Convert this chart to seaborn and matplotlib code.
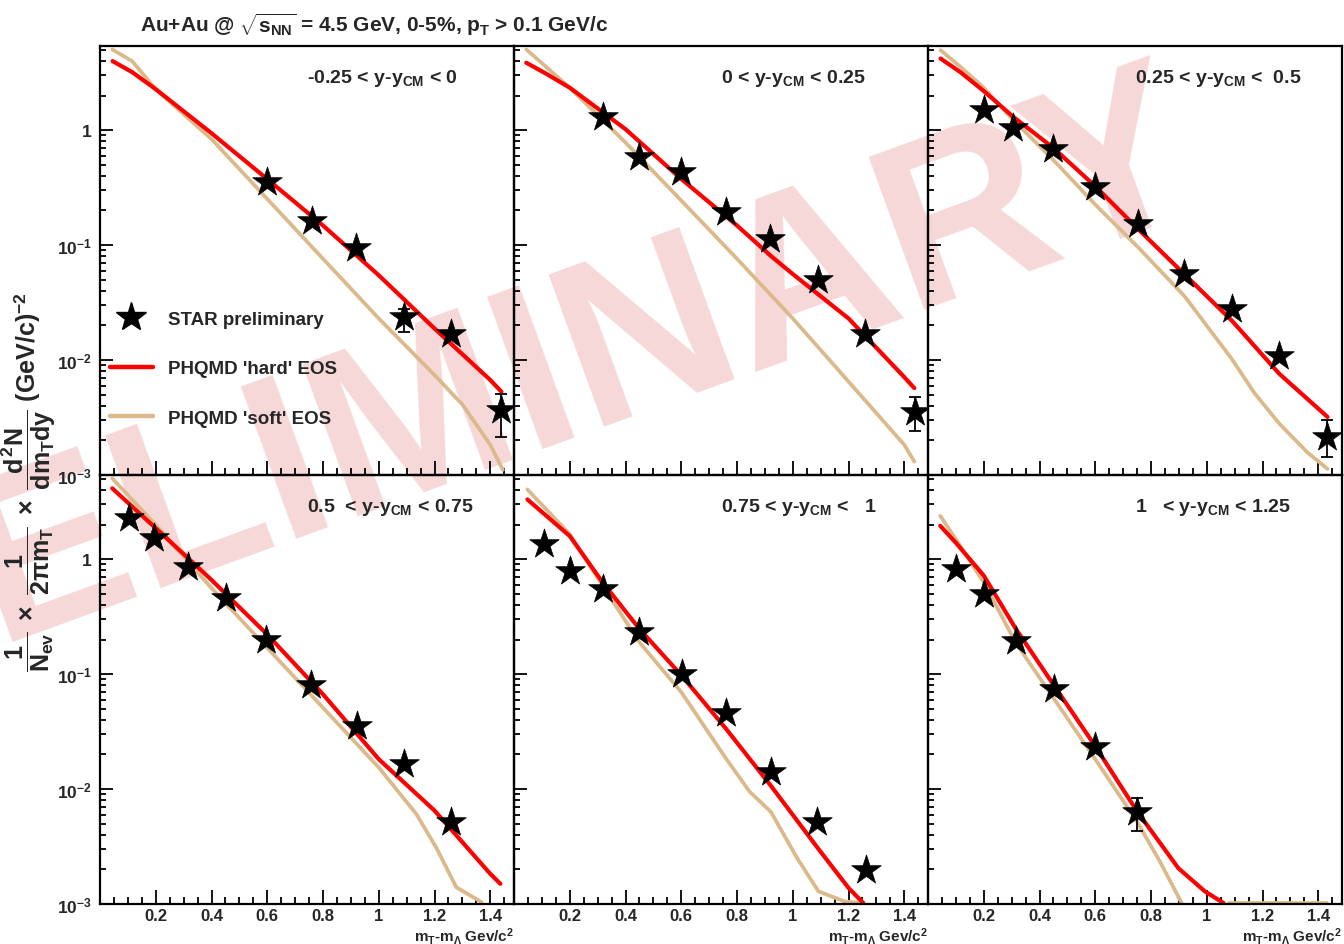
import numpy as np
import pandas as pd
import matplotlib
matplotlib.use("Agg")
import matplotlib.pyplot as plt
import seaborn as sns
from matplotlib.lines import Line2D
from matplotlib.ticker import LogLocator, MultipleLocator, NullFormatter, FixedLocator

# rapidity bins (one panel each)
bin_labels = ["-0.25 < y-y$_{CM}$ < 0", "0 < y-y$_{CM}$ < 0.25", "0.25 < y-y$_{CM}$ <  0.5",
              "0.5  < y-y$_{CM}$ < 0.75", "0.75 < y-y$_{CM}$ <   1", "1   < y-y$_{CM}$ < 1.25"]

# STAR preliminary points: mT-m0, yield, error band low/high
p1_star_x = [0.6, 0.76, 0.92, 1.09, 1.26, 1.44]
p1_star_y = [0.356, 0.161, 0.094, 0.0238, 0.0167, 0.00368]
p1_star_lo = [0.34, 0.153, 0.09, 0.0176, 0.0158, 0.00216]
p1_star_hi = [0.372, 0.169, 0.098, 0.028, 0.0176, 0.0051]

p2_star_x = [0.32, 0.45, 0.6, 0.76, 0.92, 1.09, 1.26, 1.44]
p2_star_y = [1.29, 0.58, 0.43, 0.193, 0.1135, 0.0494, 0.017, 0.00356]
p2_star_lo = [1.29, 0.58, 0.43, 0.193, 0.1135, 0.0494, 0.017, 0.0024]
p2_star_hi = [1.29, 0.58, 0.43, 0.193, 0.1135, 0.0494, 0.017, 0.0048]

p3_star_x = [0.2, 0.305, 0.45, 0.6, 0.755, 0.92, 1.09, 1.26, 1.433]
p3_star_y = [1.5, 1.04, 0.68, 0.32, 0.153, 0.056, 0.0277, 0.0109, 0.00213]
p3_star_lo = [1.5, 1.04, 0.68, 0.32, 0.153, 0.056, 0.0277, 0.0109, 0.00143]
p3_star_hi = [1.5, 1.04, 0.68, 0.32, 0.153, 0.056, 0.0277, 0.0109, 0.00298]

p4_star_x = [0.104, 0.194, 0.314, 0.451, 0.595, 0.757, 0.921, 1.089, 1.26]
p4_star_y = [2.27, 1.52, 0.86, 0.46, 0.2, 0.081, 0.0354, 0.0165, 0.00514]
p4_star_lo = p4_star_y
p4_star_hi = p4_star_y

p5_star_x = [0.109, 0.2, 0.318, 0.45, 0.602, 0.76, 0.921, 1.088, 1.263]
p5_star_y = [1.35, 0.79, 0.55, 0.231, 0.1, 0.0462, 0.0141, 0.0052, 0.00199]
p5_star_lo = p5_star_y
p5_star_hi = p5_star_y

p6_star_x = [0.101, 0.2, 0.314, 0.452, 0.598, 0.75]
p6_star_y = [0.82, 0.5, 0.196, 0.0746, 0.0233, 0.00636]
p6_star_lo = [0.82, 0.5, 0.196, 0.0746, 0.0233, 0.0043]
p6_star_hi = [0.82, 0.5, 0.196, 0.0746, 0.0233, 0.0083]

# PHQMD 'hard' EOS
p1_hard_x = [0.045, 0.115, 0.2, 0.4, 0.6, 0.8, 1.0, 1.2, 1.4, 1.44]
p1_hard_y = [3.99, 3.2, 2.27, 0.94, 0.375, 0.148, 0.0546, 0.0188, 0.0067, 0.0053]
p2_hard_x = [0.044, 0.115, 0.2, 0.4, 0.6, 0.8, 0.92, 1.0, 1.2, 1.4, 1.436]
p2_hard_y = [3.86, 3.1, 2.34, 1.02, 0.376, 0.148, 0.081, 0.056, 0.023, 0.0071, 0.0057]
p3_hard_x = [0.045, 0.116, 0.2, 0.305, 0.45, 0.6, 0.755, 0.92, 1.09, 1.26, 1.433]
p3_hard_y = [4.2, 3.2, 2.19, 1.31, 0.70, 0.325, 0.137, 0.0557, 0.022, 0.0076, 0.0032]
p4_hard_x = [0.044, 0.2, 0.4, 0.6, 0.8, 1.0, 1.2, 1.4, 1.436]
p4_hard_y = [4.13, 1.86, 0.66, 0.221, 0.0667, 0.0182, 0.0065, 0.00183, 0.0015]
p5_hard_x = [0.048, 0.2, 0.318, 0.45, 0.6, 0.76, 0.92, 1.09, 1.2, 1.253]
p5_hard_y = [3.31, 1.59, 0.628, 0.247, 0.098, 0.0336, 0.0108, 0.00306, 0.00138, 0.00102]
p6_hard_x = [0.044, 0.1, 0.2, 0.314, 0.452, 0.598, 0.75, 0.898, 0.993, 1.06]
p6_hard_y = [1.95, 1.39, 0.72, 0.25, 0.0797, 0.024, 0.0064, 0.00205, 0.00129, 0.00102]

# PHQMD 'soft' EOS (seg marks separate pieces of the curve)
p1_soft_x = [0.044, 0.115, 0.2, 0.4, 0.6, 0.8, 1.0, 1.2, 1.3, 1.4, 1.445]
p1_soft_y = [5.04, 3.99, 2.27, 0.836, 0.252, 0.076, 0.023, 0.0074, 0.0041, 0.00183, 0.00111]
p2_soft_x = [0.044, 0.2, 0.4, 0.6, 0.8, 1.0, 1.2, 1.4, 1.436]
p2_soft_y = [5.04, 2.34, 0.78, 0.244, 0.076, 0.023, 0.0065, 0.00183, 0.00131]
p3_soft_x = [0.045, 0.116, 0.2, 0.305, 0.45, 0.6, 0.755, 0.92, 1.09, 1.17, 1.26, 1.36, 1.433]
p3_soft_y = [4.97, 3.56, 2.34, 1.23, 0.55, 0.225, 0.095, 0.036, 0.0102, 0.0052, 0.0028, 0.00158, 0.00113]
p4_soft_x = [0.044, 0.2, 0.4, 0.6, 0.8, 1.0, 1.134, 1.206, 1.278, 1.368]
p4_soft_y = [5.04, 1.99, 0.56, 0.169, 0.051, 0.0154, 0.0061, 0.0031, 0.0014, 0.00104]
p5_soft_x = [0.048, 0.2, 0.318, 0.45, 0.6, 0.76, 0.845, 0.921, 1.016, 1.092, 1.187, 1.253]
p5_soft_y = [4.04, 1.65, 0.587, 0.189, 0.0698, 0.0185, 0.0095, 0.00636, 0.0025, 0.00129, 0.00105, 0.00102]
p6_soft_x = [0.044, 0.1, 0.2, 0.314, 0.452, 0.598, 0.75, 0.832, 0.91, 1.08, 1.43]
p6_soft_y = [2.38, 1.49, 0.628, 0.189, 0.061, 0.0185, 0.0052, 0.00234, 0.00102, 0.00102, 0.00102]
p6_soft_seg = [0, 0, 0, 0, 0, 0, 0, 0, 0, 1, 1]

x_ticks = [0.2, 0.4, 0.6, 0.8, 1.0, 1.2, 1.4]
x_tick_labels = ["0.2", "0.4", "0.6", "0.8", "1", "1.2", "1.4"]
y_ticks = [1e-3, 1e-2, 1e-1, 1]
y_tick_labels = ["10$^{-3}$", "10$^{-2}$", "10$^{-1}$", "1"]

RED = "#ff0000"
SOFT = "#dcb98a"

sns.set_theme(style="ticks")
plt.rcParams["font.family"] = ["Liberation Sans", "DejaVu Sans"]
plt.rcParams["font.weight"] = "bold"
plt.rcParams["mathtext.fontset"] = "custom"
plt.rcParams["mathtext.rm"] = "Liberation Sans:bold"
plt.rcParams["mathtext.it"] = "Liberation Sans:bold"
plt.rcParams["mathtext.bf"] = "Liberation Sans:bold"
plt.rcParams["mathtext.sf"] = "Liberation Sans:bold"
plt.rcParams["axes.facecolor"] = "none"

fig = plt.figure(figsize=(13.44, 9.45), dpi=100)
axes = fig.subplots(2, 3)
fig.subplots_adjust(left=0.0744, right=0.9985, bottom=0.0423, top=0.9503, wspace=0, hspace=0)

panels = [
    (p1_star_x, p1_star_y, p1_star_lo, p1_star_hi, p1_hard_x, p1_hard_y, p1_soft_x, p1_soft_y, None),
    (p2_star_x, p2_star_y, p2_star_lo, p2_star_hi, p2_hard_x, p2_hard_y, p2_soft_x, p2_soft_y, None),
    (p3_star_x, p3_star_y, p3_star_lo, p3_star_hi, p3_hard_x, p3_hard_y, p3_soft_x, p3_soft_y, None),
    (p4_star_x, p4_star_y, p4_star_lo, p4_star_hi, p4_hard_x, p4_hard_y, p4_soft_x, p4_soft_y, None),
    (p5_star_x, p5_star_y, p5_star_lo, p5_star_hi, p5_hard_x, p5_hard_y, p5_soft_x, p5_soft_y, None),
    (p6_star_x, p6_star_y, p6_star_lo, p6_star_hi, p6_hard_x, p6_hard_y, p6_soft_x, p6_soft_y, p6_soft_seg),
]

for i, (ax, p) in enumerate(zip(axes.flat, panels)):
    sx, sy, lo, hi, hx, hy, ox, oy, seg = p
    row, col = divmod(i, 3)
    ax.set_yscale("log")
    ax.set_xlim(0, 1.485)
    ax.set_ylim(1e-3, 5.4)

    soft = pd.DataFrame({"x": ox, "y": oy, "seg": seg if seg is not None else [0] * len(ox)})
    sns.lineplot(data=soft, x="x", y="y", units="seg", estimator=None, sort=False,
                 color=SOFT, lw=2.7, ax=ax)
    sns.lineplot(x=hx, y=hy, estimator=None, sort=False, color=RED, lw=3.0, ax=ax)

    sy_a = np.array(sy)
    ax.errorbar(sx, sy, yerr=[sy_a - np.array(lo), np.array(hi) - sy_a], fmt="none",
                ecolor="black", elinewidth=1.3, capsize=4, capthick=1.3, zorder=4)
    sns.scatterplot(x=sx, y=sy, marker="*", s=500, color="black", edgecolor="black",
                    linewidth=0.5, ax=ax, zorder=5)

    ax.text(0.50, 0.915, bin_labels[i], transform=ax.transAxes, fontsize=14,
            fontweight="bold", ha="left", va="baseline")

    ax.xaxis.set_major_locator(FixedLocator(x_ticks))
    ax.set_xticklabels(x_tick_labels)
    ax.xaxis.set_minor_locator(MultipleLocator(0.05))
    ax.yaxis.set_major_locator(FixedLocator(y_ticks))
    ax.set_yticklabels(y_tick_labels)
    ax.yaxis.set_minor_locator(LogLocator(base=10, subs=np.arange(2, 10)))
    ax.yaxis.set_minor_formatter(NullFormatter())
    ax.tick_params(axis="both", which="both", direction="in", top=False, right=False,
                   labelsize=12.5, width=1.3, color="black")
    ax.tick_params(axis="x", which="major", length=10, pad=3, labelsize=12)
    ax.tick_params(axis="x", which="minor", length=5)
    ax.tick_params(axis="y", which="major", length=9, pad=6)
    ax.tick_params(axis="y", which="minor", length=4.5)
    ax.tick_params(labelleft=(col == 0), labelbottom=(row == 1))
    for sp in ax.spines.values():
        sp.set_linewidth(1.6)
        sp.set_color("black")
    ax.set_xlabel("")
    ax.set_ylabel("")
    if row == 1:
        ax.text(1.0, -0.085, "$m_{T}$-$m_{\\Lambda}$ Gev/c$^{2}$", transform=ax.transAxes,
                fontsize=11, ha="right", va="baseline")

handles = [Line2D([], [], marker="*", ls="none", color="black", ms=22),
           Line2D([], [], color=RED, lw=3.2),
           Line2D([], [], color=SOFT, lw=3.2)]
axes[0, 0].legend(handles, ["STAR preliminary", "PHQMD 'hard' EOS", "PHQMD 'soft' EOS"],
                  loc="upper left", bbox_to_anchor=(0.005, 0.40), frameon=False,
                  handlelength=2.3, labelspacing=1.72, handletextpad=0.8,
                  borderaxespad=0, prop={"size": 13.5, "weight": "bold"})

fig.text(0.104, 0.974, "Au+Au @ $\\sqrt{s_{NN}}$ = 4.5 GeV, 0-5%, $p_{T}$ > 0.1 GeV/c",
         fontsize=15, fontweight="bold", ha="left", va="center")
fig.text(0.0215, 0.49,
         "$\\dfrac{1}{N_{ev}}\\;\\times\\;\\dfrac{1}{2\\pi m_{T}}\\;\\times\\;\\dfrac{d^{2}N}{dm_{T}dy}$ (GeV/c)$^{-2}$",
         rotation=90, fontsize=18, ha="center", va="center")

fig.text(0.319, 0.556, "PRELIMINARY", fontsize=170, fontweight="bold", rotation=20,
         color="#f6d8d8", ha="center", va="center", rotation_mode="anchor", zorder=-10)

fig.savefig("out.png", dpi=100, facecolor="white")
